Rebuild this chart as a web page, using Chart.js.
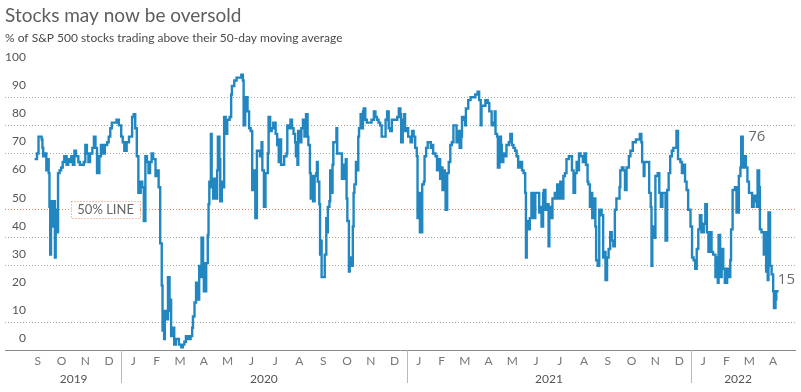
<!DOCTYPE html>
<html>
<head>
<meta charset="utf-8">
<script src="https://cdn.jsdelivr.net/npm/chart.js@4.4.1/dist/chart.umd.min.js"></script>
<style>
  html, body { margin: 0; padding: 0; background: #fff; }
  #wrap { width: 801px; height: 392px; }
</style>
</head>
<body>
<div id="wrap"><canvas id="chart"></canvas></div>
<script>
// days counted from 1 Sep 2019, value = % of S&P 500 stocks above their 50-day average
const days = [
  11,14,16,20,21,22,25,26,28,29,30,31,32,34,35,37,38,40,41,43,45,47,49,52,54,56,58,60,62,64,
  67,69,72,74,76,78,80,82,85,87,89,91,94,96,99,101,104,106,108,110,114,116,119,122,124,126,129,132,135,136,
  138,140,142,144,147,149,151,153,155,157,
  159,161,163,166,168,170,172,174,175,177,178,181,182,184,185,186,188,190,192,194,196,199,201,203,205,208,211,213,214,216,
  218,220,222,224,225,227,228,231,233,234,235,237,238,240,241,243,245,246,248,249,251,252,254,256,258,261,263,264,267,270,
  273,276,278,279,281,282,284,286,288,290,293,294,296,298,300,302,303,305,307,310,311,313,315,317,320,
  322,324,325,327,329,331,334,335,337,339,341,343,345,346,348,349,352,353,355,357,359,361,362,364,365,367,368,370,372,373,
  374,376,377,378,379,382,383,385,386,387,389,390,391,393,394,396,398,399,401,404,405,407,408,410,411,412,414,415,417,419,
  420,421,423,424,426,427,429,430,432,433,435,437,440,443,446,448,450,452,454,456,458,461,463,465,467,469,471,473,476,478,
  480,481,483,485,486,488,490,493,495,497,499,501,502,504,505,508,510,511,513,515,517,519,521,522,525,527,529,531,532,534,
  535,537,538,540,542,544,546,548,550,552,555,556,558,559,561,563,564,567,569,570,573,576,579,581,583,584,587,589,592,594,
  595,597,599,601,602,604,605,607,609,610,612,614,616,619,621,623,625,627,629,631,634,636,638,640,
  641,642,644,646,648,651,653,655,657,658,660,661,663,664,666,667,669,670,671,673,674,675,678,680,681,683,685,687,689,691,
  693,696,698,700,702,704,706,708,709,711,714,716,718,720,721,723,725,726,728,730,731,733,735,737,738,740,741,743,745,747,
  749,751,753,755,757,759,761,762,764,766,768,770,772,773,775,778,780,782,784,787,789,790,792,793,795,797,799,801,802,
  803,805,807,810,812,814,816,818,820,822,824,826,828,830,832,834,836,839,841,843,845,847,849,852,854,856,858,860,862,864,
  866,869,871,873,875,877,879,881,884,885,887,888,890,892,894,896,899,901,903,904,906,907,909,911,914,916,917,919,921,923,
  925,927,929,931,933,935,937,938,940,941,943,946,948,949,951,952,954,956,958,959,961,962,965
];
const pct = [
  68,70,76,75,72,69,70,64,68,63,51,34,53,44,53,33,50,42,63,64,65,67,69,66,68,67,69,66,71,69,
  67,66,66,67,73,70,67,70,72,76,72,63,69,73,70,73,74,76,79,81,81,82,80,76,74,71,74,76,76,83,
  84,79,69,56,60,58,46,69,67,63,
  67,70,68,62,64,58,38,23,7,4,14,11,26,14,18,5,8,2,4,4,2,1,2,3,5,4,5,8,12,17,
  24,18,30,26,40,31,21,31,41,52,60,77,58,54,61,54,64,76,68,53,60,58,83,77,82,83,91,94,96,97,
  97,98,96,80,85,90,85,79,78,57,64,47,71,71,69,74,64,51,63,70,83,78,79,81,77,
  73,67,75,66,66,69,70,80,79,82,79,77,74,69,66,78,74,79,82,76,84,76,73,63,54,62,53,62,63,67,
  60,52,34,39,26,26,34,47,42,51,53,64,56,66,74,74,79,70,70,70,61,66,61,68,54,46,28,33,30,44,
  56,59,67,64,76,79,84,79,85,86,82,81,81,82,85,83,82,81,80,76,76,82,85,79,78,82,82,82,83,86,
  84,74,82,84,78,79,76,74,78,76,72,69,47,56,42,59,60,69,72,74,74,72,73,70,69,64,68,61,65,57,
  64,59,50,63,67,73,74,80,80,74,78,72,76,83,82,80,86,89,89,90,90,91,92,89,80,87,87,89,88,85,
  85,80,81,85,77,76,65,76,73,67,70,69,73,74,77,73,72,71,69,65,67,64,63,56,
  33,46,43,47,56,47,56,56,56,49,51,44,56,57,50,52,52,37,47,51,47,54,56,54,59,54,60,54,62,63,
  68,69,69,64,56,63,67,64,70,69,67,70,66,60,59,51,56,47,54,44,32,30,50,50,48,33,35,25,33,36,
  42,39,37,50,54,54,58,64,65,64,57,65,65,69,71,74,74,75,75,77,74,67,62,67,67,67,56,51,30,
  44,40,62,63,56,51,56,56,39,57,63,69,71,72,72,78,68,67,63,66,60,57,50,44,33,32,29,36,43,48,
  42,45,52,42,35,42,35,34,26,33,24,41,26,36,29,24,29,26,32,43,57,57,58,49,62,65,76,65,69,65,
  60,56,56,51,55,53,51,64,58,43,42,34,42,28,25,49,30,27,21,15,18,21,21
];

const monthLetters = ['S','O','N','D','J','F','M','A','M','J','J','A','S','O','N','D',
                      'J','F','M','A','M','J','J','A','S','O','N','D','J','F','M','A'];
const yearLabels = ['2019', '2020', '2021', '2022'];
const yTicks = [0, 10, 20, 30, 40, 50, 60, 70, 80, 90, 100];
const dottedAt = [10, 30, 40, 70, 80, 90];
const lineAt = 50;

const notesText = ['76', '15'];
const notesDay = [926, 964];
const notesValue = [76, 25];

// calendar helpers (month starts in day units from 1 Sep 2019)
const dayOf = (y, m) => (Date.UTC(y, m, 1) - Date.UTC(2019, 8, 1)) / 864e5;
const monthStarts = [];
for (let i = 0; i <= monthLetters.length; i++) monthStarts.push(dayOf(2019, 8 + i));
const monthMids = monthLetters.map((_, i) => (monthStarts[i] + monthStarts[i + 1]) / 2);
const yearBounds = [];
const yearMids = [];
let segStart = monthStarts[0];
for (let i = 1; i <= monthLetters.length; i++) {
  const isJan = (8 + i) % 12 === 0;
  if (isJan || i === monthLetters.length) {
    yearMids.push((segStart + monthStarts[i]) / 2);
    if (isJan) yearBounds.push(monthStarts[i]);
    segStart = monthStarts[i];
  }
}

const X_MIN = -27, X_MAX = 986;

const notes = {
  id: 'notes',
  afterDatasetsDraw(chart) {
    const {ctx, scales: {x, y}} = chart;
    ctx.save();
    // year separators below the axis
    ctx.strokeStyle = '#b8b8b8';
    ctx.lineWidth = 1;
    yearBounds.forEach(b => {
      const px = Math.round(x.getPixelForValue(b)) + 0.5;
      ctx.beginPath();
      ctx.moveTo(px, x.top);
      ctx.lineTo(px, 383);
      ctx.stroke();
    });
    // 50% line tag
    const cx = x.getPixelForValue(102), cy = y.getPixelForValue(lineAt);
    ctx.font = '13px Lato, "Open Sans", sans-serif';
    const w = ctx.measureText('50% LINE').width + 12, h = 17;
    ctx.fillStyle = '#fff';
    ctx.fillRect(cx - w / 2, cy - h / 2, w, h);
    ctx.strokeStyle = '#e8855a';
    ctx.setLineDash([1, 2]);
    ctx.strokeRect(Math.round(cx - w / 2) + 0.5, Math.round(cy - h / 2) + 0.5, Math.round(w), h);
    ctx.setLineDash([]);
    ctx.fillStyle = '#666';
    ctx.textAlign = 'center';
    ctx.textBaseline = 'middle';
    ctx.fillText('50% LINE', cx, cy + 0.5);
    // value callouts
    ctx.font = '15px "Open Sans", Lato, sans-serif';
    ctx.textAlign = 'left';
    ctx.fillStyle = '#6b6b6b';
    notesText.forEach((t, i) => {
      ctx.fillText(t, x.getPixelForValue(notesDay[i]), y.getPixelForValue(notesValue[i]));
    });
    ctx.restore();
  }
};

Chart.defaults.font.family = 'Lato, "Open Sans", sans-serif';
Chart.defaults.color = '#555';

new Chart(document.getElementById('chart'), {
  type: 'line',
  data: {
    datasets: [{
      data: days.map((d, i) => ({x: d, y: pct[i]})),
      borderColor: '#2287c0',
      borderWidth: 2.4,
      pointRadius: 0,
      stepped: true,
      fill: false
    }]
  },
  options: {
    responsive: true,
    maintainAspectRatio: false,
    animation: false,
    layout: {padding: {left: 5, right: 6, top: 0, bottom: 6}},
    plugins: {
      legend: {display: false},
      tooltip: {enabled: false},
      title: {
        display: true,
        text: 'Stocks may now be oversold',
        align: 'start',
        color: '#5e5e5e',
        font: {size: 19, weight: 'normal'},
        padding: {top: 4, bottom: 4}
      },
      subtitle: {
        display: true,
        text: '% of S&P 500 stocks trading above their 50-day moving average',
        align: 'start',
        color: '#4a4a4a',
        font: {size: 12},
        padding: {top: 0, bottom: 24}
      }
    },
    scales: {
      x: {
        type: 'linear',
        min: X_MIN,
        max: X_MAX,
        afterBuildTicks: s => { s.ticks = monthMids.map(v => ({value: v})); },
        ticks: {
          autoSkip: false,
          maxRotation: 0,
          padding: 3.5,
          color: '#777',
          font: {size: 12},
          callback: (v, i) => monthLetters[i]
        },
        grid: {drawOnChartArea: false, drawTicks: false, tickLength: 0},
        border: {display: true, color: '#8a8a8a', width: 1}
      },
      x2: {
        type: 'linear',
        axis: 'x',
        position: 'bottom',
        min: X_MIN,
        max: X_MAX,
        afterBuildTicks: s => { s.ticks = yearMids.map(v => ({value: v})); },
        ticks: {
          autoSkip: false,
          maxRotation: 0,
          padding: 0,
          color: '#555',
          font: {size: 12},
          callback: (v, i) => yearLabels[i]
        },
        grid: {display: false, drawTicks: false, tickLength: 0},
        border: {display: false}
      },
      y: {
        type: 'linear',
        min: 0,
        max: 100,
        afterBuildTicks: s => { s.ticks = yTicks.map(v => ({value: v})); },
        ticks: {
          mirror: true,
          crossAlign: 'far',
          padding: 0,
          labelOffset: -12,
          color: '#555',
          font: {size: 12}
        },
        grid: {
          drawTicks: false,
          lineWidth: 1,
          color: c => c.tick.value === lineAt ? '#e8855a' : (dottedAt.includes(c.tick.value) ? '#a8a8a8' : 'rgba(0,0,0,0)')
        },
        border: {display: false, dash: [1, 2]}
      }
    }
  },
  plugins: [notes]
});
</script>
</body>
</html>
